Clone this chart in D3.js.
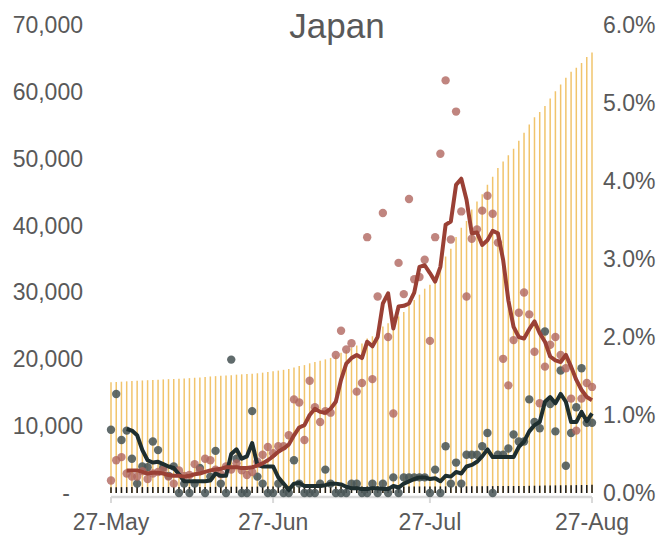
<!DOCTYPE html>
<html><head><meta charset="utf-8">
<script src="https://cdn.jsdelivr.net/npm/d3@7"></script>
<style>
body{margin:0;background:#fff;}
svg text{font-family:"Liberation Sans",Arial,sans-serif;fill:#595959;}
</style></head>
<body>
<svg id="c" width="671" height="536"></svg>
<script>
// ---- data ----
const startDay = new Date(2020, 4, 27);
const endDay = new Date(2020, 7, 27);
const xTickDates = [new Date(2020,4,27), new Date(2020,5,27), new Date(2020,6,27), new Date(2020,7,27)];
const leftTicks = [0,10000,20000,30000,40000,50000,60000,70000];
const rightTicks = [0,0.01,0.02,0.03,0.04,0.05,0.06];

// cumulative confirmed cases
const cumCases = [16550,16600,16650,16700,16740,16780,16830,16870,16910,16950,
 16990,17030,17050,17100,17140,17180,17240,17290,17360,17430,
 17480,17520,17580,17630,17700,17750,17790,17840,17910,18000,
 18110,18200,18310,18420,18560,18780,19000,19130,19400,19610,
 19790,19990,20200,20560,20980,21370,21780,22060,22370,23100,
 23440,24030,24890,25390,25650,26410,27080,28100,28870,29670,
 30560,31150,32170,33570,35370,36520,38300,39690,40690,42400,
 43600,44700,46100,47300,48600,49600,50500,51500,52700,53900,
 55100,56200,57000,57900,59000,60100,61100,62100,63000,63600,
 64300,65200,65900];
// cumulative deaths
const cumDeaths = [870,874,876,880,883,884,886,889,895,900,
 903,905,908,908,909,909,910,913,913,915,
 920,921,921,937,941,941,941,951,953,954,
 954,954,955,955,955,959,960,960,960,960,
 961,964,965,965,965,965,966,967,967,967,
 968,968,969,969,971,971,973,975,977,979,
 981,981,984,984,990,991,995,996,1001,1006,
 1011,1017,1025,1025,1030,1035,1041,1049,1056,1063,
 1076,1086,1095,1117,1129,1138,1155,1159,1167,1179,
 1198,1208,1218];
// daily case growth (%)
const caseGrowth = [0.16,0.42,0.46,0.25,0.21,0.21,0.28,0.18,0.25,0.27,
 0.30,0.21,0.12,0.29,0.22,0.23,0.37,0.29,0.44,0.42,
 0.30,0.24,0.34,0.30,0.38,0.29,0.23,0.27,0.40,0.49,
 0.59,0.51,0.60,0.60,0.74,1.20,1.16,0.68,1.44,1.10,
 0.91,1.05,1.03,1.77,2.08,1.84,1.92,1.30,1.41,3.28,
 1.46,2.52,3.59,2.00,1.02,2.95,2.55,3.77,2.74,2.77,
 2.99,1.95,3.28,4.35,5.29,3.25,4.89,3.61,2.52,3.26,
 3.38,3.62,3.81,3.58,3.21,1.72,1.38,1.96,2.31,2.57,
 2.29,1.81,1.15,1.62,1.90,2.00,1.77,1.60,1.21,0.80,
 1.21,1.41,1.36];
// 7-day average of case growth (%)
const caseGrowthAvg = [null,null,null,0.29,0.29,0.29,0.27,0.25,0.26,0.26,
 0.25,0.23,0.22,0.22,0.21,0.22,0.24,0.25,0.27,0.29,
 0.30,0.31,0.33,0.33,0.33,0.32,0.32,0.33,0.35,0.38,
 0.42,0.47,0.53,0.57,0.62,0.74,0.84,0.87,1.00,1.08,
 1.04,1.03,1.08,1.17,1.45,1.66,1.73,1.77,1.73,1.94,
 1.88,2.00,2.43,2.56,2.11,2.39,2.40,2.43,2.57,2.90,
 2.92,2.82,2.71,2.90,3.44,3.48,3.95,4.03,3.76,3.33,
 3.34,3.18,3.24,3.36,3.33,2.99,2.47,2.13,2.00,1.98,
 2.10,2.20,2.05,1.94,1.75,1.70,1.68,1.77,1.62,1.45,
 1.32,1.23,1.19];
// daily death growth (%)
const deathGrowth = [0.81,1.27,0.68,0.80,0.44,0.12,0.34,0.33,0.66,0.55,
 0.33,0.22,0.34,0,0.12,0,0.12,0.32,0,0.21,
 0.54,0.12,0,1.71,0.44,0,0,1.05,0.21,0.12,
 0,0,0.12,0,0,0.42,0.12,0,0,0,
 0.12,0.30,0.12,0,0,0,0.12,0.12,0,0,
 0.12,0,0.12,0,0.20,0,0.20,0.20,0.20,0.20,
 0.20,0,0.30,0,0.60,0.12,0.39,0.12,0.49,0.49,
 0.49,0.60,0.77,0,0.49,0.49,0.57,0.75,0.66,0.66,
 1.20,0.91,0.83,2.07,1.14,0.79,1.57,0.35,0.77,1.10,
 1.60,0.90,0.90];
// 7-day average of death growth (%)
const deathGrowthAvg = [null,null,null,0.82,0.80,0.74,0.55,0.42,0.39,0.40,
 0.37,0.34,0.32,0.24,0.15,0.15,0.15,0.15,0.15,0.16,
 0.25,0.22,0.22,0.50,0.56,0.44,0.47,0.64,0.36,0.34,
 0.34,0.34,0.20,0.12,0.04,0.12,0.13,0.09,0.09,0.09,
 0.09,0.10,0.12,0.12,0.11,0.08,0.06,0.06,0.05,0.05,
 0.06,0.06,0.05,0.05,0.09,0.07,0.12,0.15,0.18,0.20,
 0.20,0.18,0.19,0.15,0.22,0.21,0.27,0.25,0.34,0.36,
 0.40,0.47,0.56,0.46,0.46,0.46,0.46,0.46,0.59,0.66,
 0.79,0.87,0.91,1.17,1.23,1.15,1.27,1.17,0.91,0.91,
 1.04,0.92,1.02];

// ---- chart ----
const days = d3.timeDay.range(startDay, d3.timeDay.offset(endDay, 1));
const svg = d3.select("#c");
const x = d3.scaleTime().domain([startDay, endDay]).range([111, 592]);
const yL = d3.scaleLinear().domain([0, 70000]).range([493, 25]);
const yR = d3.scaleLinear().domain([0, 0.06]).range([493, 25]);

// title
svg.append("text").attr("x", 337).attr("y", 38).attr("text-anchor", "middle")
  .style("font-size", "35px").text("Japan");

// x axis line
svg.append("line").attr("x1", x(startDay)).attr("x2", x(endDay))
  .attr("y1", 497).attr("y2", 497).attr("stroke", "#d9d9d9").attr("stroke-width", 2.5);
svg.append("g").selectAll("line").data(xTickDates).join("line")
  .attr("x1", d => x(d)).attr("x2", d => x(d)).attr("y1", 497).attr("y2", 503)
  .attr("stroke", "#d9d9d9").attr("stroke-width", 2);

// cumulative case bars
svg.append("g").selectAll("line").data(days).join("line")
  .attr("x1", d => x(d)).attr("x2", d => x(d))
  .attr("y1", yL(0)).attr("y2", (d, i) => yL(cumCases[i]))
  .attr("stroke", "#f1c46c").attr("stroke-width", 1.5);

// cumulative death bars
svg.append("g").selectAll("line").data(days).join("line")
  .attr("x1", d => x(d)).attr("x2", d => x(d))
  .attr("y1", yL(0)).attr("y2", (d, i) => yL(cumDeaths[i]))
  .attr("stroke", "#1a1a1a").attr("stroke-width", 1.5);

// dots
svg.append("g").selectAll("circle").data(days).join("circle")
  .attr("cx", d => x(d)).attr("cy", (d, i) => yR(deathGrowth[i] / 100))
  .attr("r", 4.2).attr("fill", "#4a5758").attr("fill-opacity", 0.88);
svg.append("g").selectAll("circle").data(days).join("circle")
  .attr("cx", d => x(d)).attr("cy", (d, i) => yR(caseGrowth[i] / 100))
  .attr("r", 4.2).attr("fill", "#b0675f").attr("fill-opacity", 0.8);

// lines
const lineOf = arr => d3.line()
  .defined((d, i) => arr[i] !== null)
  .x(d => x(d)).y((d, i) => yR(arr[i] / 100));
svg.append("path").attr("d", lineOf(deathGrowthAvg)(days))
  .attr("fill", "none").attr("stroke", "#1e2e2f").attr("stroke-width", 4)
  .attr("stroke-linejoin", "round");
svg.append("path").attr("d", lineOf(caseGrowthAvg)(days))
  .attr("fill", "none").attr("stroke", "#9a4035").attr("stroke-width", 4)
  .attr("stroke-linejoin", "round");

// left axis
const fmtL = d3.format(",");
svg.append("g").selectAll("text").data(leftTicks).join("text")
  .attr("x", d => d === 0 ? 70 : 83).attr("y", d => yL(d)).attr("dy", "0.35em")
  .attr("text-anchor", "end").style("font-size", "23px")
  .text(d => d === 0 ? "-" : fmtL(d));

// right axis
const fmtR = d3.format(".1%");
svg.append("g").selectAll("text").data(rightTicks).join("text")
  .attr("x", 603).attr("y", d => yR(d)).attr("dy", "0.35em")
  .attr("text-anchor", "start").style("font-size", "23px")
  .text(d => fmtR(d));

// x labels
const fmtX = d3.timeFormat("%d-%b");
svg.append("g").selectAll("text").data(xTickDates).join("text")
  .attr("x", d => x(d)).attr("y", 530).attr("text-anchor", "middle")
  .style("font-size", "23px").text(d => fmtX(d));
</script>
</body></html>
